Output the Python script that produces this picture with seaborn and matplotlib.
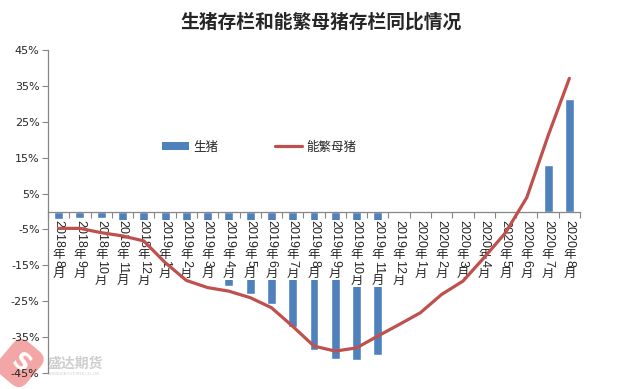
import numpy as np
import matplotlib
matplotlib.use("Agg")
import matplotlib.pyplot as plt
import seaborn as sns
from matplotlib.patches import Patch
from matplotlib.lines import Line2D

# data (YoY %)
months = ["2018年8月", "2018年9月", "2018年10月", "2018年11月", "2018年12月",
          "2019年1月", "2019年2月", "2019年3月", "2019年4月", "2019年5月",
          "2019年6月", "2019年7月", "2019年8月", "2019年9月", "2019年10月",
          "2019年11月", "2019年12月", "2020年1月", "2020年2月", "2020年3月",
          "2020年4月", "2020年5月", "2020年6月", "2020年7月", "2020年8月"]
pig = [-2.2, -1.9, -1.9, -2.6, -4.8, -12.6, -16.6, -18.8, -20.8, -22.9,
       -25.8, -32.2, -38.7, -41.1, -41.4, -40.0, np.nan, np.nan, np.nan, np.nan,
       np.nan, np.nan, np.nan, 12.9, 31.3]
sow = [-4.7, -4.7, -5.9, -6.8, -8.2, -14.2, -19.2, -21.2, -22.2, -24.0,
       -26.8, -32.0, -37.5, -38.9, -38.0, -34.7, -31.5, -28.2, -23.1, -19.4,
       -12.8, -5.9, 3.9, 21.1, 37.1]
yticks = list(range(-45, 46, 10))

BLUE = "#4F81BD"
RED = "#C0504D"
GRAY = "#868686"
CJK = "Noto Sans CJK SC"

sns.set_theme(style="white")
plt.rcParams["font.family"] = ["DejaVu Sans", CJK]

fig = plt.figure(figsize=(6.4, 3.89), dpi=100)

# watermark logo (behind everything)
fig.text(20 / 640, 1 - 363 / 389, "S", ha="center", va="center", fontsize=17,
         fontweight="bold", color="white", rotation=-40, zorder=0,
         bbox=dict(boxstyle="round,pad=0.4,rounding_size=0.45", fc="#f2a6a6", ec="none"))
fig.text(48 / 640, 1 - 364 / 389, "盛达期货", ha="left", va="center",
         fontsize=10, fontweight="bold", family=CJK, color="#cfcfcf", zorder=0)
fig.text(48 / 640, 1 - 374 / 389, "SHENGDA FUTURES CO.,LTD.", ha="left", va="center",
         fontsize=2.6, color="#cfcfcf", zorder=0)

ax = fig.add_axes([48 / 640, 1 - 373 / 389, 532 / 640, 323 / 389])
ax.set_zorder(1)
ax.patch.set_alpha(0)

sns.barplot(x=months, y=pig, color=BLUE, saturation=1, width=0.42, ax=ax, zorder=2)
sns.lineplot(x=np.arange(len(months)), y=sow, color=RED, linewidth=2.3, ax=ax, zorder=5)

ax.set_xlim(-0.5, len(months) - 0.5)
ax.set_ylim(-45, 45)
ax.set_yticks(yticks)
ax.set_yticklabels([f"{v}%" for v in yticks], fontsize=8)
ax.set_xticks(np.arange(-0.5, len(months), 1))
ax.set_xticklabels([])
ax.set_xlabel("")
ax.set_ylabel("")
ax.tick_params(axis="both", direction="out", length=4, width=0.8, color=GRAY, pad=2)
ax.tick_params(axis="y", left=True)
ax.tick_params(axis="x", bottom=True)
for s in ["top", "right"]:
    ax.spines[s].set_visible(False)
for s in ["left", "bottom"]:
    ax.spines[s].set_color(GRAY)
    ax.spines[s].set_linewidth(0.9)
ax.spines["bottom"].set_position(("data", 0))
ax.grid(False)

# vertical category labels: digits turned sideways, CJK characters upright
fs = 9
box = dict(facecolor="white", edgecolor="none", pad=0.3)
for i, lab in enumerate(months):
    pieces = []
    for ch in lab:
        if ch.isascii():
            if pieces and pieces[-1][1]:
                pieces[-1][0] += ch
            else:
                pieces.append([ch, True])
        else:
            pieces.append([ch, False])
    off = 6.5
    for txt, is_digit in pieces:
        step = len(txt) * 0.556 * fs if is_digit else 0.95 * fs
        ax.annotate(txt, xy=(i, 0), xycoords="data", xytext=(0, -(off + step / 2)),
                    textcoords="offset points", ha="center", va="center",
                    rotation=-90 if is_digit else 0, fontsize=fs,
                    family="Liberation Sans" if is_digit else CJK,
                    bbox=box, zorder=4.2 if is_digit else 4,
                    annotation_clip=False)
        off += step

ax.legend(handles=[Patch(facecolor=BLUE, edgecolor="none"),
                   Line2D([], [], color=RED, linewidth=2.3)],
          labels=["生猪", "能繁母猪"], ncol=2, frameon=False,
          loc="center left", bbox_to_anchor=(156 / 640, 1 - 147 / 389),
          bbox_transform=fig.transFigure, borderpad=0, handlelength=2.1,
          handleheight=0.55, handletextpad=0.35, columnspacing=4.6,
          prop={"family": CJK, "size": 9})

fig.text(0.502, 1 - 22 / 389, "生猪存栏和能繁母猪存栏同比情况", ha="center", va="center",
         fontsize=13.5, fontweight="bold", family=CJK)

fig.savefig("out.png", dpi=100)
